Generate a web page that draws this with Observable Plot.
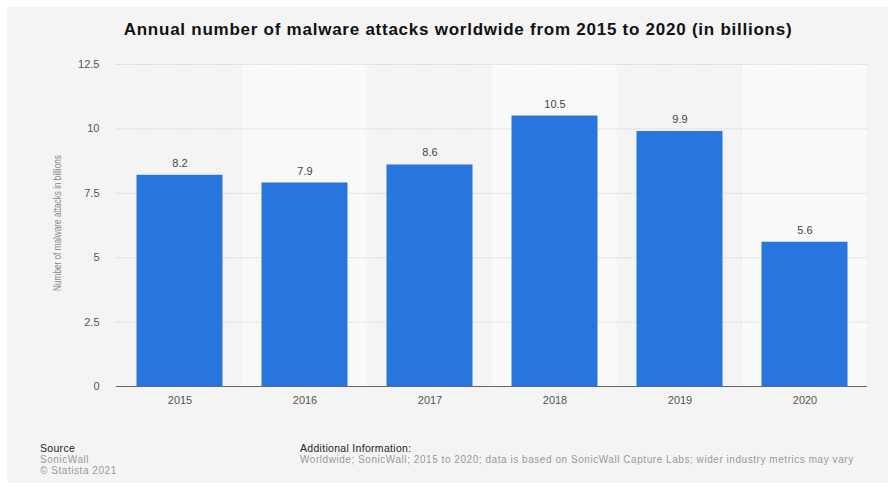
<!DOCTYPE html>
<html>
<head>
<meta charset="utf-8">
<script src="https://cdn.jsdelivr.net/npm/d3@7"></script>
<script src="https://cdn.jsdelivr.net/npm/@observablehq/plot@0.6"></script>
<style>
  html, body { margin: 0; padding: 0; background: #ffffff; }
  body { width: 888px; height: 492px; overflow: hidden; font-family: "Liberation Sans", Arial, sans-serif; }
  #frame { position: absolute; left: 7px; top: 7px; width: 881px; height: 476px; background: #f4f4f4; }
  #title { position: absolute; left: 0; top: 13px; width: 902px; text-align: center; font-weight: bold; font-size: 17px; letter-spacing: 0.75px; color: #111; }
  #chart { position: absolute; left: 0; top: 43px; }
  #ylabel { position: absolute; left: 50px; top: 216px; transform: translate(-50%, -50%) rotate(-90deg) scaleX(0.82); white-space: nowrap; font-size: 10px; color: #888; }
  .foot { position: absolute; font-size: 10px; line-height: 11px; letter-spacing: 0.55px; }
  .foot .h { color: #222; font-size: 10.5px; letter-spacing: 0.3px; }
  .foot .g { color: #999; }
</style>
</head>
<body>
<div id="frame">
  <div id="title">Annual number of malware attacks worldwide from 2015 to 2020 (in billions)</div>
  <div id="chart"></div>
  <div id="ylabel">Number of malware attacks in billions</div>
  <div class="foot" style="left:33px; top:436px;">
    <div class="h">Source</div>
    <div class="g">SonicWall</div>
    <div class="g">© Statista 2021</div>
  </div>
  <div class="foot" style="left:293px; top:436px;">
    <div class="h">Additional Information:</div>
    <div class="g">Worldwide; SonicWall; 2015 to 2020; data is based on SonicWall Capture Labs; wider industry metrics may vary</div>
  </div>
</div>
<script>
const years = ["2015", "2016", "2017", "2018", "2019", "2020"];
const attacks = [8.2, 7.9, 8.6, 10.5, 9.9, 5.6];
const yTicks = [0, 2.5, 5, 7.5, 10, 12.5];
const yMax = 12.5;
const shadedYears = ["2016", "2018", "2020"];

const data = years.map((year, i) => ({year, value: attacks[i]}));
const bands = shadedYears.map(year => ({year, top: yMax}));

const chart = Plot.plot({
  width: 881,
  height: 370,
  marginLeft: 109,
  marginRight: 21,
  marginTop: 14,
  marginBottom: 34,
  style: {background: "transparent", fontFamily: "Liberation Sans, Arial, sans-serif", fontSize: "11px", color: "#555"},
  x: {domain: years, padding: 0, label: null, tickSize: 0, tickPadding: 10},
  y: {domain: [0, yMax], ticks: yTicks, label: null, tickSize: 0, tickPadding: 17, tickFormat: d => String(d)},
  marks: [
    Plot.barY(bands, {x: "year", y: "top", fill: "#f9f9f9"}),
    Plot.gridY(yTicks.filter(d => d > 0), {stroke: "#c8c8c8", strokeOpacity: 1, strokeDasharray: "1,1.5", strokeWidth: 1}),
    Plot.barY(data, {x: "year", y: "value", fill: "#2876dd", insetLeft: 19.5, insetRight: 19.5}),
    Plot.ruleY([0], {stroke: "#666", strokeWidth: 1.2}),
    Plot.text(data, {x: "year", y: "value", text: d => d.value.toFixed(1), dy: -12, fill: "#444", fontSize: 11})
  ]
});
document.getElementById("chart").appendChild(chart);
</script>
</body>
</html>
